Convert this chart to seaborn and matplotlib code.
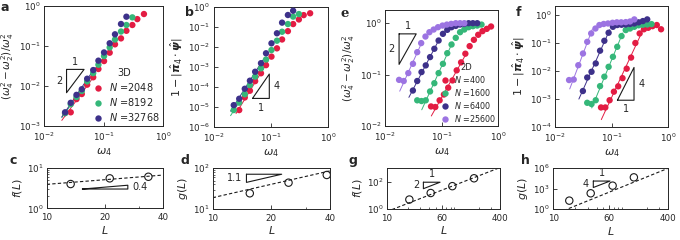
import numpy as np
import pandas as pd
import seaborn as sns
import matplotlib
matplotlib.use("Agg")
import matplotlib.pyplot as plt
from matplotlib.ticker import NullLocator, NullFormatter, LogLocator

# ---------------- data ----------------
# panels a, b (3D)
omega_3d = [0.0225, 0.028, 0.035, 0.043, 0.053, 0.067, 0.082, 0.102,
            0.127, 0.156, 0.197, 0.243, 0.306, 0.371, 0.48]
sizes_3d = ["2048", "8192", "32768"]
a_red = [0.0021, 0.0022, 0.0047, 0.0063, 0.0108, 0.0165, 0.0266, 0.042,
         0.068, 0.11, 0.155, 0.24, 0.335, 0.47, 0.63]
a_green = [0.0021, 0.0035, 0.0053, 0.0075, 0.013, 0.021, 0.034, 0.056,
           0.092, 0.145, 0.23, 0.335, 0.52]
a_blue = [0.0022, 0.0038, 0.006, 0.0083, 0.0152, 0.025, 0.043, 0.069,
          0.117, 0.196, 0.355, 0.54]
# red series in b starts at the second omega value
b_red = [6.8e-6, 2.9e-5, 6.3e-5, 1.9e-4, 4.7e-4, 1.2e-3, 3.2e-3, 8.3e-3,
         0.023, 0.06, 0.136, 0.23, 0.38, 0.47]
b_green = [6.8e-6, 1.6e-5, 4.2e-5, 1.2e-4, 3.2e-4, 8.3e-4, 2.3e-3, 6.8e-3,
           0.02, 0.056, 0.136, 0.32, 0.43]
b_blue = [1.2e-5, 2.5e-5, 7.9e-5, 2e-4, 5.6e-4, 1.5e-3, 4.7e-3, 0.0148,
          0.047, 0.16, 0.385, 0.63]

# panels e, f (2D)
sizes_2d = ["400", "1600", "6400", "25600"]
x2_red = [0.0652, 0.0776, 0.0924, 0.11, 0.131, 0.156, 0.185, 0.221, 0.263,
          0.313, 0.372, 0.443, 0.527, 0.628, 0.747]
x2_green = [0.0372, 0.0443, 0.0526, 0.0627, 0.0746, 0.0887, 0.1057, 0.126,
            0.15, 0.178, 0.212, 0.252, 0.30, 0.357, 0.426, 0.507]
x2_blue = [0.0312, 0.0372, 0.0443, 0.0526, 0.0627, 0.0746, 0.0887, 0.1057,
           0.126, 0.15, 0.178, 0.212, 0.252, 0.30, 0.357, 0.426]
x2_purple = [0.0178, 0.0215, 0.0259, 0.0313, 0.0372, 0.0437, 0.052, 0.061,
             0.0726, 0.0865, 0.104, 0.124, 0.148, 0.178, 0.212, 0.252]
e_red = [0.024, 0.0234, 0.0316, 0.041, 0.0556, 0.077, 0.121, 0.173, 0.255,
         0.358, 0.475, 0.595, 0.70, 0.776, 0.863]
e_green = [0.0316, 0.0306, 0.0316, 0.047, 0.068, 0.107, 0.162, 0.261, 0.385,
           0.519, 0.668, 0.753, 0.836, 0.875, 0.90, 0.94]
e_blue = [0.049, 0.075, 0.112, 0.151, 0.219, 0.318, 0.46, 0.621, 0.743,
          0.836, 0.887, 0.942, 0.97, 1.0, 1.0, 1.0]
e_purple = [0.079, 0.075, 0.107, 0.162, 0.273, 0.41, 0.55, 0.668, 0.753,
            0.836, 0.90, 0.94, 0.97, 1.0, 1.0, 1.0]
f_red = [4.9e-4, 4.9e-4, 8.9e-4, 1.8e-3, 2.8e-3, 5.5e-3, 0.012, 0.03, 0.1,
         0.22, 0.31, 0.35, 0.40, 0.44, 0.31]
f_green = [7.2e-4, 6.5e-4, 8.9e-4, 2.85e-3, 6.2e-3, 0.014, 0.032, 0.073,
           0.177, 0.29, 0.33, 0.38, 0.43, 0.45, 0.46, 0.475]
f_blue = [0.0019, 0.0058, 0.0093, 0.0185, 0.053, 0.12, 0.233, 0.38, 0.44,
          0.45, 0.46, 0.48, 0.50, 0.55, 0.61, 0.70]
f_purple = [0.0047, 0.0049, 0.016, 0.042, 0.11, 0.22, 0.33, 0.44, 0.48,
            0.50, 0.53, 0.55, 0.55, 0.56, 0.59, 0.70]
# index ranges used for the thin power-law fits
e_fit = [(1, 8), (2, 8), (0, 6), (1, 5)]
f_fit = [(1, 9), (2, 8), (0, 6), (1, 5)]

# bottom panels
L_c = [13.3, 21.2, 33.6]
f_c = [3.97, 5.48, 6.0]
L_d = [15.5, 24.5, 38.5]
g_d = [24.3, 44.3, 68.4]
L_g = [20.9, 41.9, 84.7, 171.8]
f_g = [4.9, 14.6, 46, 172]
L_h = [16.7, 33.2, 67.1, 132.7]
g_h = [17.8, 204, 2600, 41000]
# dashed guides: (exponent, value at L=10)
c_line = (0.38, 3.9)
d_line = (1.09, 19)
g_line = (2.0, 0.65)
h_line = (4.2, 0.16)

# slope triangles: ([x0, x1], [y0, y1])
tri_a = ([0.0238, 0.047], [0.0068, 0.026])
tri_b = ([0.0477, 0.0935], [2.6e-5, 4.3e-4])
tri_e = ([0.0178, 0.0357], [0.158, 0.62])
tri_f = ([0.127, 0.249], [8.9e-4, 0.0133])
tri_c = ([15.3, 26.3], [2.99, 3.71])
tri_d = ([14.9, 22.6], [45, 71.3])
tri_g = ([33, 56.8], [30.1, 89])
tri_h = ([36.1, 61.7], [1400, 1.2e4])

red, green, navy, lav = "#e31c43", "#35b779", "#3d318a", "#9c74e2"

# ---------------- style ----------------
sns.set_theme(style="ticks")
plt.rcParams["font.family"] = ["DejaVu Sans"]
plt.rcParams["mathtext.fontset"] = "dejavusans"
plt.rcParams.update({
    "xtick.direction": "in", "ytick.direction": "in",
    "xtick.labelsize": 6.3, "ytick.labelsize": 6.3,
    "xtick.major.size": 3, "ytick.major.size": 3,
    "xtick.minor.size": 1.6, "ytick.minor.size": 1.6,
    "xtick.major.width": 0.6, "ytick.major.width": 0.6,
    "xtick.minor.width": 0.5, "ytick.minor.width": 0.5,
    "xtick.major.pad": 3.5, "ytick.major.pad": 2.5,
    "axes.linewidth": 0.7, "axes.labelsize": 8, "axes.labelpad": 2,
})

fig = plt.figure(figsize=(6.8, 2.4), dpi=100)
ax_a = fig.add_axes([0.065, 0.475, 0.1745, 0.5])
ax_b = fig.add_axes([0.314, 0.472, 0.169, 0.5])
ax_e = fig.add_axes([0.566, 0.475, 0.1667, 0.483])
ax_f = fig.add_axes([0.816, 0.472, 0.1667, 0.505])
ax_c = fig.add_axes([0.0687, 0.132, 0.171, 0.169])
ax_d = fig.add_axes([0.3128, 0.129, 0.1725, 0.17])
ax_g = fig.add_axes([0.5687, 0.129, 0.1666, 0.172])
ax_h = fig.add_axes([0.8137, 0.128, 0.169, 0.173])


def dots(ax, xs, ys, names, pal, legend):
    df = pd.concat([pd.DataFrame({"w": x, "v": y, "N": "$N$ =" + n})
                    for x, y, n in zip(xs, ys, names)])
    sns.scatterplot(data=df, x="w", y="v", hue="N", palette=pal, s=21,
                    linewidth=0, ax=ax, legend=legend, zorder=3)


def fit(ax, x, y, i0, i1, color, lo=0.88, hi=1.08):
    x = np.asarray(x)
    y = np.asarray(y)
    k, b = np.polyfit(np.log10(x[i0:i1 + 1]), np.log10(y[i0:i1 + 1]), 1)
    xx = np.array([x[i0] * lo, x[i1] * hi])
    ax.plot(xx, 10 ** b * xx ** k, color=color, lw=0.7, zorder=2)


def triangle(ax, t, kind, hlab=None, vlab=None, fs=7):
    (x0, x1), (y0, y1) = t
    xm, ym = np.sqrt(x0 * x1), np.sqrt(y0 * y1)
    if kind == "ul":
        px, py = [x0, x1, x0, x0], [y1, y1, y0, y1]
        if hlab:
            ax.annotate(hlab, (xm, y1), xytext=(0, 2), textcoords="offset points",
                        ha="center", va="bottom", fontsize=fs)
        if vlab:
            ax.annotate(vlab, (x0, ym), xytext=(-3, 0), textcoords="offset points",
                        ha="right", va="center", fontsize=fs)
    else:
        px, py = [x0, x1, x1, x0], [y0, y0, y1, y0]
        if hlab:
            ax.annotate(hlab, (xm, y0), xytext=(0, -3), textcoords="offset points",
                        ha="center", va="top", fontsize=fs)
        if vlab:
            ax.annotate(vlab, (x1, ym), xytext=(3, 0), textcoords="offset points",
                        ha="left", va="center", fontsize=fs)
    ax.plot(px, py, color="k", lw=0.8, zorder=2)


def log_axes(ax, xlim, ylim, yticks, xticks=None, xlabels=None, minor=False):
    ax.set_xscale("log")
    ax.set_yscale("log")
    ax.set_xlim(xlim)
    ax.set_ylim(ylim)
    ax.set_yticks(yticks)
    if xticks is None:
        ax.set_xticks([0.01, 0.1, 1])
    else:
        ax.set_xticks(xticks, labels=xlabels)
    if minor:
        ax.xaxis.set_minor_locator(LogLocator(subs=np.arange(2, 10)))
        ax.yaxis.set_minor_locator(LogLocator(subs=np.arange(2, 10)))
    else:
        ax.xaxis.set_minor_locator(NullLocator())
        ax.yaxis.set_minor_locator(NullLocator())
    ax.xaxis.set_minor_formatter(NullFormatter())
    ax.yaxis.set_minor_formatter(NullFormatter())
    for s in ax.spines.values():
        s.set_color("0.15")


# ---- a ----
dots(ax_a, [omega_3d, omega_3d[:13], omega_3d[:12]], [a_red, a_green, a_blue],
     sizes_3d, [red, green, navy], True)
for y, c in zip([a_red, a_green, a_blue], [red, green, navy]):
    fit(ax_a, omega_3d[:len(y)], y, 0, 5, c)
triangle(ax_a, tri_a, "ul", "1", "2")
log_axes(ax_a, (0.01, 1), (1e-3, 1), [1e-3, 1e-2, 1e-1, 1])
ax_a.set_xlabel(r"$\omega_4$")
ax_a.set_ylabel(r"$(\omega_4^2-\omega_2^2)/\omega_4^2$", fontsize=7.5)
sns.move_legend(ax_a, "lower right", title="3D", frameon=False, fontsize=7,
                title_fontsize=7, handletextpad=0.1, labelspacing=0.3,
                borderaxespad=0.1, borderpad=0.2)

# ---- b ----
dots(ax_b, [omega_3d[1:], omega_3d[:13], omega_3d[:12]], [b_red, b_green, b_blue],
     sizes_3d, [red, green, navy], False)
for x, y, c in zip([omega_3d[1:], omega_3d[:13], omega_3d[:12]],
                   [b_red, b_green, b_blue], [red, green, navy]):
    fit(ax_b, x, y, 0, 5, c)
triangle(ax_b, tri_b, "lr", "1", "4")
log_axes(ax_b, (0.01, 1), (1e-6, 1), [10.0 ** k for k in range(-6, 1)])
ax_b.set_xlabel(r"$\omega_4$")
ax_b.set_ylabel(r"$1-|\hat{\boldsymbol{\pi}}_4\cdot\hat{\boldsymbol{\psi}}|$")

# ---- e ----
xs2 = [x2_red, x2_green, x2_blue, x2_purple]
cols2 = [red, green, navy, lav]
dots(ax_e, xs2, [e_red, e_green, e_blue, e_purple], sizes_2d, cols2, True)
for x, y, c, (i0, i1) in zip(xs2, [e_red, e_green, e_blue, e_purple], cols2, e_fit):
    fit(ax_e, x, y, i0, i1, c, lo=0.85, hi=1.05)
triangle(ax_e, tri_e, "ul", "1", "2")
log_axes(ax_e, (0.01, 1), (1e-2, 1.8), [1e-2, 1e-1, 1])
ax_e.set_xlabel(r"$\omega_4$")
ax_e.set_ylabel(r"$(\omega_4^2-\omega_2^2)/\omega_4^2$", fontsize=7.5)
sns.move_legend(ax_e, "lower right", title="2D", frameon=False, fontsize=5.8,
                title_fontsize=6, handletextpad=0.1, labelspacing=0.25,
                borderaxespad=0.1, borderpad=0.2)

# ---- f ----
dots(ax_f, xs2, [f_red, f_green, f_blue, f_purple], sizes_2d, cols2, False)
for x, y, c, (i0, i1) in zip(xs2, [f_red, f_green, f_blue, f_purple], cols2, f_fit):
    fit(ax_f, x, y, i0, i1, c, lo=0.85, hi=1.05)
triangle(ax_f, tri_f, "lr", "1", "4")
log_axes(ax_f, (0.01, 1), (1e-4, 2.2), [1e-4, 1e-3, 1e-2, 1e-1, 1])
ax_f.set_xlabel(r"$\omega_4$")
ax_f.set_ylabel(r"$1-|\hat{\boldsymbol{\pi}}_4\cdot\hat{\boldsymbol{\psi}}|$")


# ---- bottom row ----
def scaling(ax, L, v, line, xlim, ylim, yticks, xticks, ylabel, minor_y):
    xx = np.array(xlim, dtype=float)
    ax.plot(xx, line[1] * (xx / 10) ** line[0], color="k", lw=0.8,
            ls=(0, (3, 2)), zorder=2)
    sns.scatterplot(x=L, y=v, ax=ax, s=28, facecolor="none", edgecolor="k",
                    linewidth=0.8, zorder=3)
    log_axes(ax, xlim, ylim, yticks, xticks, [str(t) for t in xticks], minor=True)
    if not minor_y:
        ax.yaxis.set_minor_locator(NullLocator())
    ax.set_xlabel(r"$L$", labelpad=1)
    ax.set_ylabel(ylabel)


scaling(ax_c, L_c, f_c, c_line, (10, 40), (1, 10), [1, 10], [10, 20, 40],
        r"$f(L)$", True)
triangle(ax_c, tri_c, "lr", None, "0.4")
scaling(ax_d, L_d, g_d, d_line, (10, 40), (10, 100), [10, 100], [10, 20, 40],
        r"$g(L)$", True)
triangle(ax_d, tri_d, "ul", None, "1.1")
scaling(ax_g, L_g, f_g, g_line, (10, 400), (1, 1e3), [1, 100], [10, 60, 400],
        r"$f(L)$", False)
triangle(ax_g, tri_g, "ul", "1", "2")
scaling(ax_h, L_h, g_h, h_line, (10, 400), (1, 1e6), [1, 1e3, 1e6], [10, 60, 400],
        r"$g(L)$", False)
triangle(ax_h, tri_h, "ul", "1", "4")

# panel letters
for lab, x, y in [("a", 0.007, 0.968), ("b", 0.279, 0.95), ("f", 0.762, 0.948),
                  ("c", 0.019, 0.333), ("d", 0.272, 0.33), ("g", 0.519, 0.33),
                  ("h", 0.772, 0.333)]:
    fig.text(x, y, lab, fontsize=9, fontweight="bold", ha="center", va="center")
fig.text(0.507, 0.943, "e", fontsize=9.5, fontweight="bold", family="DejaVu Serif",
         ha="center", va="center")

fig.savefig("out.png", dpi=100)
